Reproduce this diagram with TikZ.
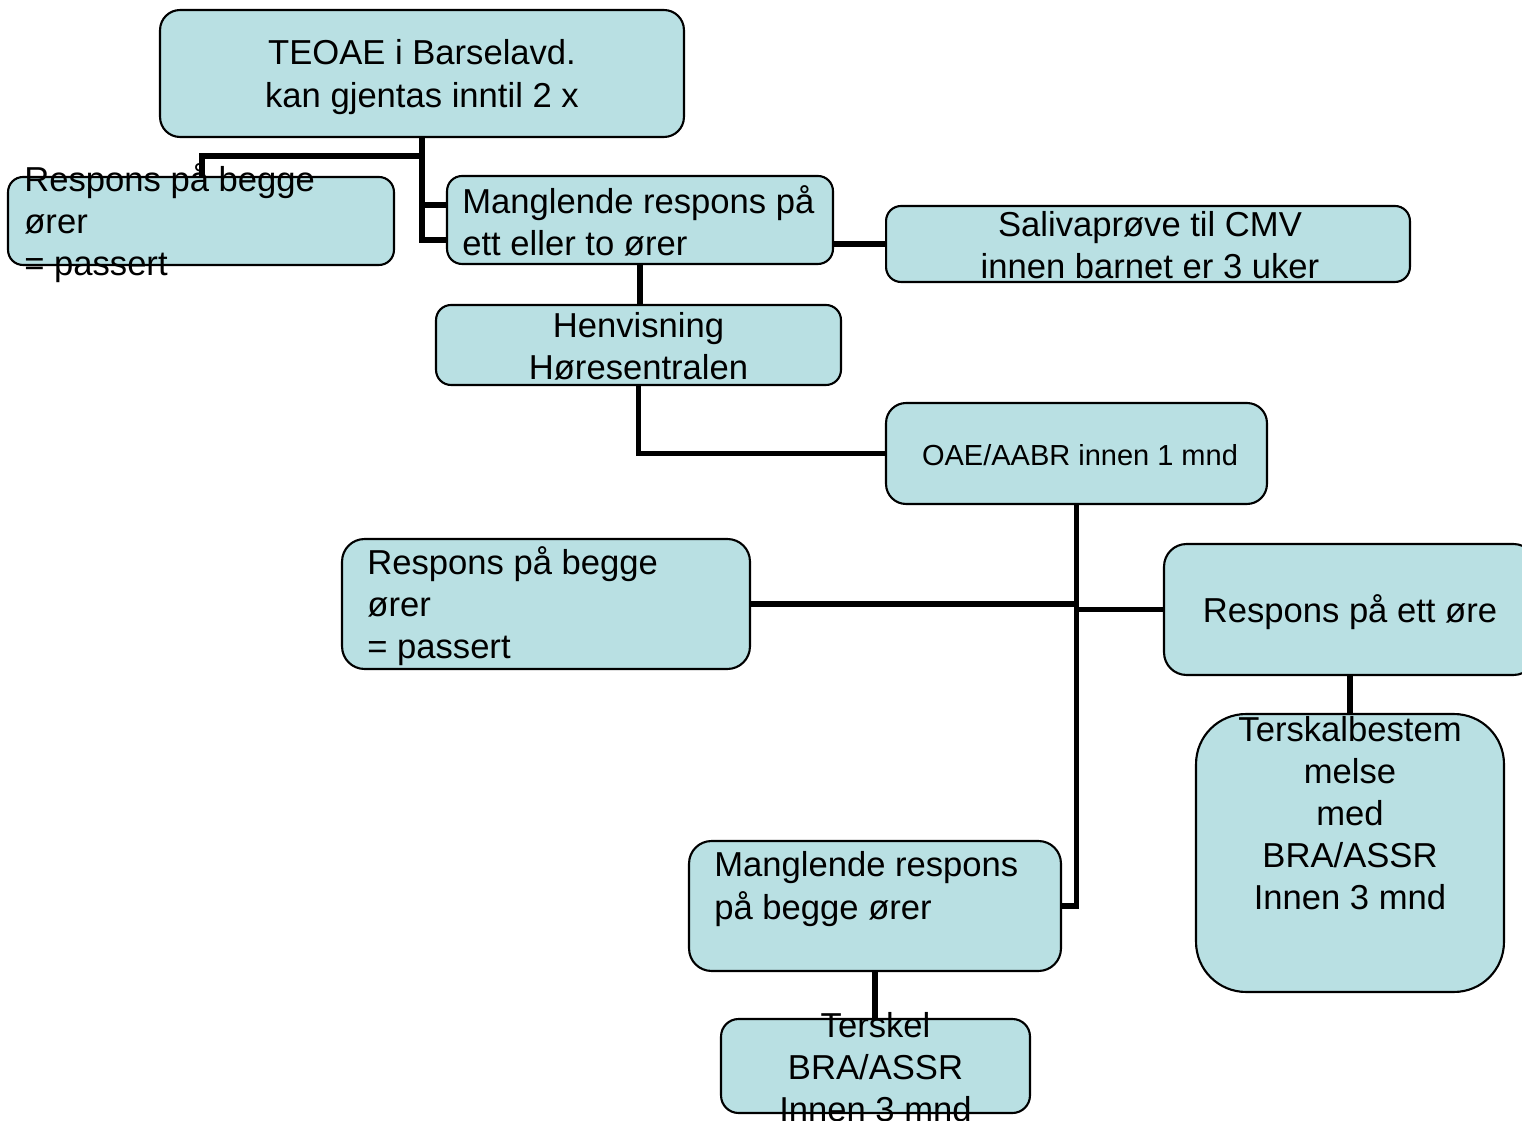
\documentclass[tikz,border=0pt]{standalone}
\usepackage{fontspec}
\setmainfont{Liberation Sans}
\usetikzlibrary{calc}
\definecolor{boxfill}{RGB}{185,224,227}
\tikzset{
  box/.style={draw=black,line width=1.2pt,fill=boxfill,rounded corners=0.4cm,inner sep=0pt},
  link/.style={line width=3.2pt},
  txt/.style={inner sep=0pt,font=\fontsize{19.7}{24}\selectfont},
}

\begin{document}
\begin{tikzpicture}[x=0.02cm,y=-0.02cm]
    \useasboundingbox[fill=white] (0,0) rectangle (1522,1121);
    % boxes
    \node[box,minimum width=10.48cm,minimum height=2.54cm] (teoae) at (422,73.5){};
    \node[box,minimum width=7.72cm,minimum height=1.76cm,rounded corners=0.3cm] (passA) at (201,221){};
    \node[box,minimum width=7.72cm,minimum height=1.76cm,rounded corners=0.3cm] (manglA) at (640,220){};
    \node[box,minimum width=10.48cm,minimum height=1.52cm,rounded corners=0.3cm] (saliva) at (1148,244){};
    \node[box,minimum width=8.1cm,minimum height=1.6cm,rounded corners=0.3cm] (henv) at (638.5,345){};
    \node[box,minimum width=7.62cm,minimum height=2.02cm] (oae) at (1076.5,453.5){};
    \node[box,minimum width=8.16cm,minimum height=2.6cm,rounded corners=0.45cm] (passB) at (546,604){};
    \node[box,minimum width=7.44cm,minimum height=2.62cm,rounded corners=0.45cm] (ettore) at (1350,609.5){};
    \node[box,minimum width=6.16cm,minimum height=5.56cm,rounded corners=1cm] (terskA) at (1350,853){};
    \node[box,minimum width=7.44cm,minimum height=2.6cm,rounded corners=0.45cm] (manglB) at (875,906){};
    \node[box,minimum width=6.18cm,minimum height=1.88cm,rounded corners=0.35cm] (terskB) at (875.5,1066){};
    % links
    \coordinate (split) at (202,156);
    \draw[link] (teoae.south) |- (split) -- (split |- passA.north);
    \draw[link] (teoae.south) |- ($(manglA.west)+(0,20)$);
    \draw[link] (teoae.south) |- ($(manglA.west)+(0,-15)$);
    \draw[link] (saliva.west -| manglA.east) -- (saliva.west);
    \draw[link] (manglA.south) -- (manglA.south |- henv.north);
    \draw[link] (henv.south) |- (oae.west);
    \draw[link] (oae.south) |- (manglB.east);
    \draw[link] (passB.east) -- (passB.east -| oae.south);
    \draw[link] (ettore.west -| oae.south) -- (ettore.west);
    \draw[link] (ettore.south) -- (ettore.south |- terskA.north);
    \draw[link] (manglB.south) -- (manglB.south |- terskB.north);
    % texts
    \node[txt,align=center] (teoaeT) at (422,77){TEOAE i Barselavd.\\kan gjentas inntil 2 x};
    \node[txt,align=left,anchor=west] (passAT) at (24,223){Respons på begge\\ører\\= passert};
    \node[txt,align=left,anchor=west] (manglAT) at (462,221){Manglende respons på\\ett eller to ører};
    \node[txt,align=center] (salivaT) at (1150,245){Salivaprøve til CMV\\innen barnet er 3 uker};
    \node[txt,align=center] (henvT) at (638.5,346){Henvisning\\Høresentralen};
    \node[txt,font=\fontsize{16.5}{20}\selectfont] (oaeT) at (1080,455){OAE/AABR innen 1 mnd};
    \node[txt,align=left,anchor=west] (passBT) at (367,606){Respons på begge\\ører\\= passert};
    \node[txt] (ettoreT) at (1350,612){Respons på ett øre};
    \node[txt,align=center] (terskAT) at (1350,813){Terskalbestem\\melse\\med\\BRA/ASSR\\Innen 3 mnd};
    \node[txt,align=left,anchor=west] (manglBT) at (714,889){Manglende respons\\på begge ører};
    \node[txt,align=center] (terskBT) at (875.5,1067){Terskel\\BRA/ASSR\\Innen 3 mnd};
\end{tikzpicture}
\end{document}
